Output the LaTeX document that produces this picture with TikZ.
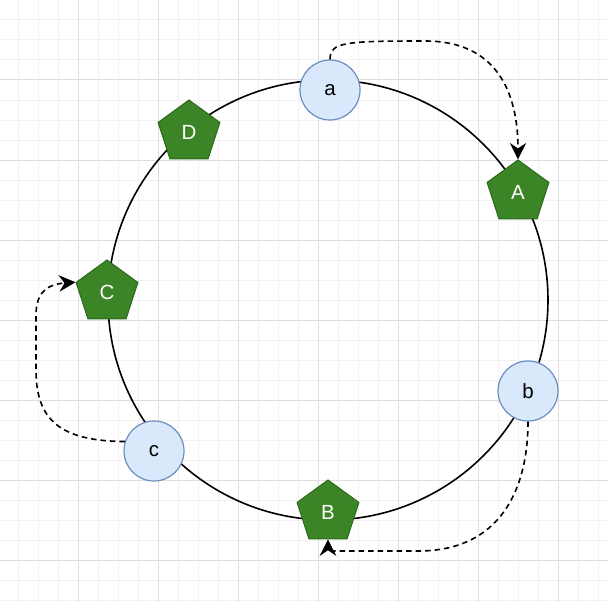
\documentclass[tikz,border=0pt]{standalone}
\usepackage{fontspec}
\setmainfont{Liberation Sans}
\usetikzlibrary{shapes.geometric,arrows.meta}
\definecolor{minorgrid}{HTML}{F2F2F2}
\definecolor{majorgrid}{HTML}{DEDEDE}
\definecolor{keyfill}{HTML}{3B8527}
\definecolor{keydraw}{HTML}{2B6A1C}
\definecolor{ptfill}{HTML}{DAE8FC}
\definecolor{ptdraw}{HTML}{6C8EBF}
\tikzset{
  keynode/.style={regular polygon, regular polygon sides=5, minimum size=65pt,
    inner sep=0pt, fill=keyfill, draw=keydraw, line width=1pt, text=white,
    font=\fontsize{20.5}{20.5}\selectfont},
  ptnode/.style={circle, minimum size=60pt, inner sep=0pt, fill=ptfill,
    draw=ptdraw, line width=1.2pt, text=black, font=\fontsize{20.5}{20.5}\selectfont},
  ring/.style={line width=1.6pt, draw=black},
  hop/.style={line width=1.6pt, dash pattern=on 5.5pt off 4pt,
    -{Stealth[length=16.5pt,width=16.5pt,inset=5.5pt]}},
  minorline/.style={draw=minorgrid, line width=1pt},
  majorline/.style={draw=majorgrid, line width=1pt}
}
\begin{document}
\begin{tikzpicture}[x=1pt,y=-1pt]
  \useasboundingbox (0,0) rectangle (608,602);
  \fill[white] (0,0) rectangle (608,602);
  % grid
  \foreach \gx in {18,38,...,598} {\draw[minorline] (\gx,0) -- (\gx,602);}
  \foreach \gy in {20,40,...,600} {\draw[minorline] (0,\gy) -- (608,\gy);}
  \foreach \gx in {78,158,...,558} {\draw[majorline] (\gx,0) -- (\gx,602);}
  \foreach \gy in {0,80,...,560} {\draw[majorline] (0,\gy) -- (608,\gy);}
  % ring
  \draw[ring] (328,300) circle[radius=220pt];
  % nodes
  \node[keynode] (A) at (518,192.5) {A};
  \node[keynode] (B) at (328,512.5) {B};
  \node[keynode] (C) at (107,292.5) {C};
  \node[keynode] (D) at (189,132.5) {D};
  \node[ptnode] (a) at (330,90) {a};
  \node[ptnode] (b) at (528,391) {b};
  \node[ptnode] (c) at (154,451) {c};
  % lookups
  \draw[hop] (a.north) .. controls (330,42) and (345,41) .. (425,41)
             .. controls (495,41) and (518,90) .. (A.north);
  \draw[hop] (b.south) .. controls (528,490) and (500,550) .. (420,551)
             -- (328,551) -- (B.south);
  \draw[hop] (c.162) .. controls (60,441) and (36,420) .. (36,370)
             -- (36,315) .. controls (36,290) and (50,284) .. (C.corner 2);
\end{tikzpicture}
\end{document}
